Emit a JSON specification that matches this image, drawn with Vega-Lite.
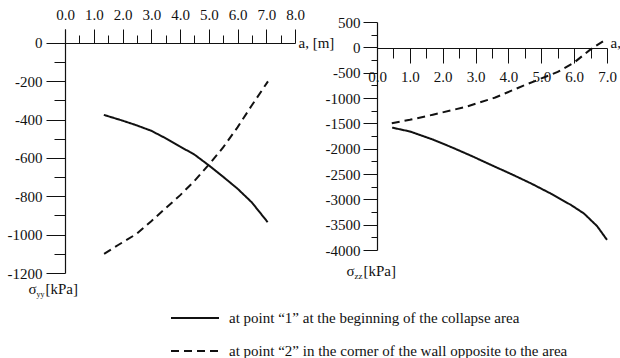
{
  "$schema": "https://vega.github.io/schema/vega-lite/v6.json",
  "autosize": {"type": "pad"},
  "padding": {"left": 7, "top": 7, "right": 0, "bottom": 0},
  "background": "white",
  "bounds": "flush",
  "spacing": 82,
  "config": {
    "font": "Liberation Serif",
    "view": {"stroke": null},
    "axis": {
      "labelFont": "Liberation Serif",
      "labelFontSize": 15,
      "labelColor": "#111",
      "titleFont": "Liberation Serif",
      "titleFontSize": 15,
      "titleFontWeight": "normal",
      "titleColor": "#111",
      "tickColor": "#111",
      "domainColor": "#111",
      "domainWidth": 1.2,
      "tickWidth": 1,
      "grid": false,
      "labelOverlap": false,
      "labelFlush": false,
      "labelBound": false
    },
    "legend": {
      "labelFont": "Liberation Serif",
      "labelFontSize": 15,
      "labelColor": "#111"
    }
  },
  "datasets": {
    "yy": [
      {"point": "at point “1” at the beginning of the collapse area", "a": 1.35, "s": -375},
      {"point": "at point “1” at the beginning of the collapse area", "a": 2.0, "s": -405},
      {"point": "at point “1” at the beginning of the collapse area", "a": 2.5, "s": -430},
      {"point": "at point “1” at the beginning of the collapse area", "a": 3.0, "s": -458},
      {"point": "at point “1” at the beginning of the collapse area", "a": 3.5, "s": -497},
      {"point": "at point “1” at the beginning of the collapse area", "a": 4.0, "s": -540},
      {"point": "at point “1” at the beginning of the collapse area", "a": 4.5, "s": -582},
      {"point": "at point “1” at the beginning of the collapse area", "a": 5.0, "s": -638},
      {"point": "at point “1” at the beginning of the collapse area", "a": 5.5, "s": -698},
      {"point": "at point “1” at the beginning of the collapse area", "a": 6.0, "s": -760},
      {"point": "at point “1” at the beginning of the collapse area", "a": 6.5, "s": -832},
      {"point": "at point “1” at the beginning of the collapse area", "a": 7.05, "s": -935},
      {"point": "at point “2” in the corner of the wall opposite to the area", "a": 1.36, "s": -1100},
      {"point": "at point “2” in the corner of the wall opposite to the area", "a": 1.85, "s": -1054},
      {"point": "at point “2” in the corner of the wall opposite to the area", "a": 2.5, "s": -995},
      {"point": "at point “2” in the corner of the wall opposite to the area", "a": 3.0, "s": -930},
      {"point": "at point “2” in the corner of the wall opposite to the area", "a": 3.5, "s": -862},
      {"point": "at point “2” in the corner of the wall opposite to the area", "a": 4.0, "s": -795},
      {"point": "at point “2” in the corner of the wall opposite to the area", "a": 4.5, "s": -720},
      {"point": "at point “2” in the corner of the wall opposite to the area", "a": 5.0, "s": -635},
      {"point": "at point “2” in the corner of the wall opposite to the area", "a": 5.5, "s": -545},
      {"point": "at point “2” in the corner of the wall opposite to the area", "a": 6.0, "s": -440},
      {"point": "at point “2” in the corner of the wall opposite to the area", "a": 6.5, "s": -325},
      {"point": "at point “2” in the corner of the wall opposite to the area", "a": 7.06, "s": -200}
    ],
    "zz": [
      {"point": "at point “1” at the beginning of the collapse area", "a": 0.46, "s": -1585},
      {"point": "at point “1” at the beginning of the collapse area", "a": 1.0, "s": -1660},
      {"point": "at point “1” at the beginning of the collapse area", "a": 1.7, "s": -1820},
      {"point": "at point “1” at the beginning of the collapse area", "a": 2.3, "s": -1980},
      {"point": "at point “1” at the beginning of the collapse area", "a": 2.9, "s": -2150},
      {"point": "at point “1” at the beginning of the collapse area", "a": 3.5, "s": -2330},
      {"point": "at point “1” at the beginning of the collapse area", "a": 4.1, "s": -2505},
      {"point": "at point “1” at the beginning of the collapse area", "a": 4.7, "s": -2690},
      {"point": "at point “1” at the beginning of the collapse area", "a": 5.3, "s": -2890},
      {"point": "at point “1” at the beginning of the collapse area", "a": 5.9, "s": -3110},
      {"point": "at point “1” at the beginning of the collapse area", "a": 6.3, "s": -3280},
      {"point": "at point “1” at the beginning of the collapse area", "a": 6.7, "s": -3530},
      {"point": "at point “1” at the beginning of the collapse area", "a": 7.0, "s": -3800},
      {"point": "at point “2” in the corner of the wall opposite to the area", "a": 0.45, "s": -1500},
      {"point": "at point “2” in the corner of the wall opposite to the area", "a": 1.0, "s": -1430},
      {"point": "at point “2” in the corner of the wall opposite to the area", "a": 1.7, "s": -1330},
      {"point": "at point “2” in the corner of the wall opposite to the area", "a": 2.7, "s": -1175},
      {"point": "at point “2” in the corner of the wall opposite to the area", "a": 3.6, "s": -990},
      {"point": "at point “2” in the corner of the wall opposite to the area", "a": 4.5, "s": -745},
      {"point": "at point “2” in the corner of the wall opposite to the area", "a": 5.5, "s": -485},
      {"point": "at point “2” in the corner of the wall opposite to the area", "a": 6.0, "s": -300},
      {"point": "at point “2” in the corner of the wall opposite to the area", "a": 6.5, "s": -40},
      {"point": "at point “2” in the corner of the wall opposite to the area", "a": 7.0, "s": 170}
    ]
  },
  "hconcat": [
    {
      "width": 230,
      "height": 251,
      "layer": [
        {
          "data": {"name": "yy"},
          "mark": {"type": "line", "strokeWidth": 2, "color": "#111"},
          "encoding": {
            "x": {
              "field": "a", "type": "quantitative",
              "scale": {"domain": [0, 8], "nice": false, "zero": false},
              "axis": {
                "orient": "top", "offset": -21,
                "values": [0, 0.5, 1, 1.5, 2, 2.5, 3, 3.5, 4, 4.5, 5, 5.5, 6, 6.5, 7, 7.5, 8],
                "labelExpr": "datum.value % 1 === 0 ? format(datum.value, '.1f') : ''",
                "labelFont": "Liberation Serif", "labelFontSize": 15,
                "tickSize": {"condition": {"test": "datum.value % 1 === 0", "value": 14}, "value": 8},
                "labelPadding": 7,
                "title": "a, [m]", "titleX": 233, "titleY": 4,
                "titleAlign": "left", "titleBaseline": "alphabetic", "titleAngle": 0
              }
            },
            "y": {
              "field": "s", "type": "quantitative",
              "scale": {"domain": [-1200, 73], "range": [251, 7], "nice": false, "zero": false},
              "axis": {
                "orient": "left",
                "values": [-1200, -1100, -1000, -900, -800, -700, -600, -500, -400, -300, -200, -100, 0],
                "labelExpr": "datum.value % 200 === 0 ? '' + datum.value : ''",
                "labelFont": "Liberation Serif", "labelFontSize": 15,
                "tickSize": {"condition": {"test": "datum.value % 200 === 0", "value": 19}, "value": 11},
                "labelPadding": 4,
                "title": "σ", "titleX": -37, "titleY": 271, "titleFontSize": 15,
                "titleAlign": "left", "titleBaseline": "alphabetic", "titleAngle": 0
              }
            },
            "strokeDash": {
              "field": "point", "type": "nominal",
              "scale": {"range": [[1, 0], [8, 5]]},
              "legend": {
                "orient": "none", "legendX": 105, "legendY": 271, "title": null,
                "direction": "vertical", "padding": 0,
                "symbolType": "stroke", "symbolSize": 2304, "symbolStrokeWidth": 2,
                "symbolStrokeColor": "#111",
                "labelOffset": 9, "rowPadding": -16, "labelLimit": 0
              }
            }
          }
        },
        {
          "data": {"name": "yy"},
          "mark": {"type": "point", "opacity": 0},
          "encoding": {
            "x": {"field": "a", "type": "quantitative", "axis": null},
            "y": {
              "field": "s", "type": "quantitative",
              "axis": {
                "orient": "left", "domain": false, "ticks": false, "labels": false,
                "title": "yy", "titleX": -29, "titleY": 274, "titleFontSize": 8,
                "titleAlign": "left", "titleBaseline": "alphabetic", "titleAngle": 0
              }
            }
          }
        },
        {
          "data": {"name": "yy"},
          "mark": {"type": "point", "opacity": 0},
          "encoding": {
            "x": {"field": "a", "type": "quantitative", "axis": null},
            "y": {
              "field": "s", "type": "quantitative",
              "axis": {
                "orient": "left", "domain": false, "ticks": false, "labels": false,
                "title": "[kPa]", "titleX": -20, "titleY": 271, "titleFontSize": 15,
                "titleAlign": "left", "titleBaseline": "alphabetic", "titleAngle": 0
              }
            }
          }
        }
      ],
      "resolve": {"axis": {"x": "independent", "y": "independent"}}
    },
    {
      "width": 230,
      "height": 228,
      "layer": [
        {
          "data": {"name": "zz"},
          "mark": {"type": "line", "strokeWidth": 2, "color": "#111"},
          "encoding": {
            "x": {
              "field": "a", "type": "quantitative",
              "scale": {"domain": [0, 7], "nice": false, "zero": false},
              "axis": {
                "orient": "bottom", "offset": -202,
                "values": [0, 0.5, 1, 1.5, 2, 2.5, 3, 3.5, 4, 4.5, 5, 5.5, 6, 6.5, 7],
                "labelExpr": "datum.value % 1 === 0 ? format(datum.value, '.1f') : ''",
                "labelFont": "Liberation Serif", "labelFontSize": 15,
                "tickSize": {"condition": {"test": "datum.value % 1 === 0", "value": 15}, "value": 10},
                "labelPadding": 6,
                "title": "a,", "titleX": 233, "titleY": -1,
                "titleAlign": "left", "titleBaseline": "alphabetic", "titleAngle": 0
              }
            },
            "y": {
              "field": "s", "type": "quantitative",
              "scale": {"domain": [-4000, 500], "nice": false, "zero": false},
              "axis": {
                "orient": "left",
                "values": [-4000, -3750, -3500, -3250, -3000, -2750, -2500, -2250, -2000, -1750, -1500, -1250, -1000, -750, -500, -250, 0, 250, 500],
                "labelExpr": "datum.value % 500 === 0 ? '' + datum.value : ''",
                "labelFont": "Liberation Serif", "labelFontSize": 15,
                "tickSize": {"condition": {"test": "datum.value % 500 === 0", "value": 14}, "value": 6},
                "labelPadding": 3,
                "title": "σ", "titleX": -31, "titleY": 253, "titleFontSize": 15,
                "titleAlign": "left", "titleBaseline": "alphabetic", "titleAngle": 0
              }
            },
            "strokeDash": {"field": "point", "type": "nominal"}
          }
        },
        {
          "data": {"name": "zz"},
          "mark": {"type": "point", "opacity": 0},
          "encoding": {
            "x": {"field": "a", "type": "quantitative", "axis": null},
            "y": {
              "field": "s", "type": "quantitative",
              "axis": {
                "orient": "left", "domain": false, "ticks": false, "labels": false,
                "title": "zz", "titleX": -23, "titleY": 256, "titleFontSize": 9,
                "titleAlign": "left", "titleBaseline": "alphabetic", "titleAngle": 0
              }
            }
          }
        },
        {
          "data": {"name": "zz"},
          "mark": {"type": "point", "opacity": 0},
          "encoding": {
            "x": {"field": "a", "type": "quantitative", "axis": null},
            "y": {
              "field": "s", "type": "quantitative",
              "axis": {
                "orient": "left", "domain": false, "ticks": false, "labels": false,
                "title": "[kPa]", "titleX": -14, "titleY": 253, "titleFontSize": 15,
                "titleAlign": "left", "titleBaseline": "alphabetic", "titleAngle": 0
              }
            }
          }
        }
      ],
      "resolve": {"axis": {"x": "independent", "y": "independent"}}
    }
  ]
}
